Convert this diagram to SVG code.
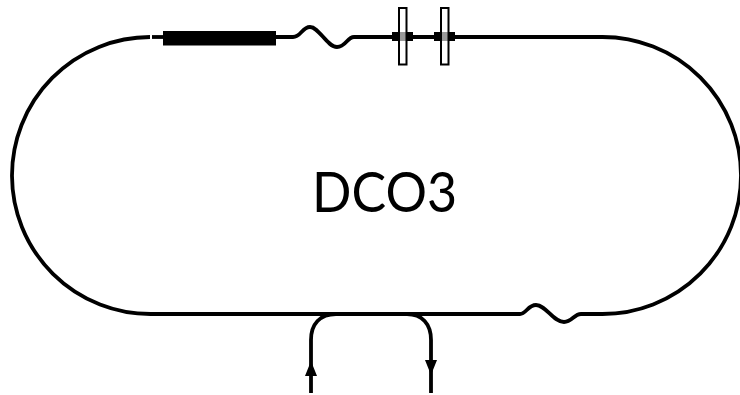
<svg xmlns="http://www.w3.org/2000/svg" width="740" height="395" viewBox="0 0 740 395">
<style>
.w{fill:none;stroke:#000;stroke-width:3.8}
.t{fill:#fff;stroke:#000;stroke-width:2}
.l{font-family:"Lato","Open Sans",sans-serif;font-size:57px;fill:#000}
</style>
<rect width="740" height="395" fill="#fff"/>
<g id="connectors">
<path class="w" d="M150 37A138.500 138.500 0 0 0 151 314H520C526 314 528 305 536 305C546 305 553 322 564 322C572 322 574 314 581 314H602A138.500 138.500 0 0 0 741 175.500A138.500 138.500 0 0 0 602 37H354C347 37 346 47 337 47C327 47 319 27 310 27C302 27 301 37 293 37H276"/>
<path class="w" d="M152 37H164"/>
<path class="w" d="M311 393V340C311 324 320 314 336 314H407C422 314 431 324 431 340V393"/>
<path d="M305 376L311 361L317 376Z" fill="#000"/>
<path d="M425 360H437L431 375Z" fill="#000"/>
</g>
<g id="heater"><rect x="163" y="31" width="113" height="14.500" fill="#000"/></g>
<g id="coupler1"><path d="M392 32H413V41H392Z" fill="#000"/><rect class="t" x="399" y="8" width="7.500" height="56.500" fill-opacity="0.6"/></g>
<g id="coupler2"><path d="M434 32H455V41H434Z" fill="#000"/><rect class="t" x="441" y="8" width="7.500" height="56.500" fill-opacity="0.6"/></g>
<g id="label"><text class="l" x="312" y="212" textLength="145" lengthAdjust="spacingAndGlyphs">DCO3</text></g>
</svg>
